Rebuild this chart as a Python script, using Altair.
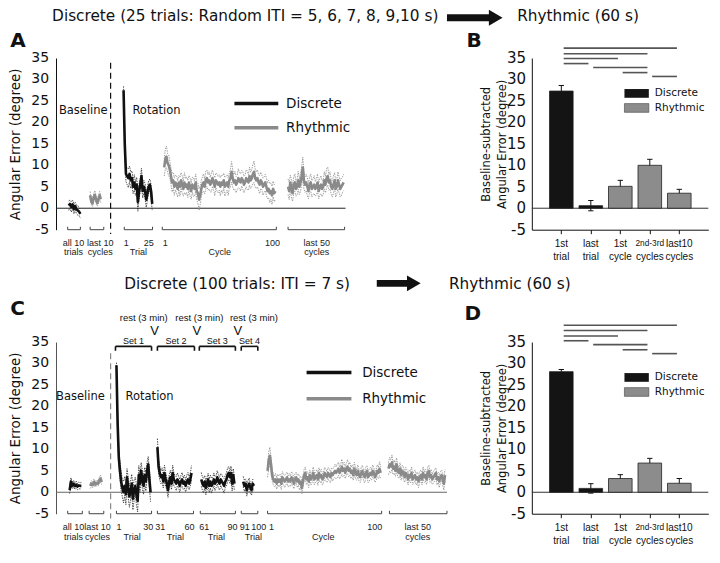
import altair as alt
import pandas as pd

# ------------------------------------------------------------------ data
SERIES = ["Discrete", "Rhythmic"]
Y_TICKS = [-5, 0, 5, 10, 15, 20, 25, 30, 35]

# Panel A (25 random-ITI trials)
A_DISC_BASE = [0.6, 1.0, 0.3, 0.9, -0.2, 0.5, -0.3, -0.5, -0.8, -1.3]
A_DISC_BASE_SE = [1.1, 0.9, 1.2, 1.0, 1.1, 0.9, 1.0, 1.1, 0.9, 1.0]
A_RHY_BASE = [3.0, 1.6, 1.1, 2.6, 3.1, 2.0, 1.2, 2.1, 3.0, 2.1]
A_RHY_BASE_SE = [0.9, 0.8, 0.7, 0.9, 1.0, 0.8, 0.7, 0.9, 0.9, 0.8]
A_DISC_ROT = [27.5, 15.0, 8.0, 7.5, 7.0, 8.0, 6.5, 7.0, 5.0, 6.0, 4.5, 5.5, 1.5,
              4.0, 5.5, 7.5, 4.0, 5.0, 4.0, 2.0, 3.5, 5.0, 5.5, 4.0, 1.0]
A_DISC_ROT_SE = [0.9, 1.5, 1.8, 2.0, 2.2, 1.8, 1.9, 1.7, 1.6, 1.8, 1.5, 1.7, 2.2,
                 1.6, 1.5, 1.8, 1.6, 1.5, 1.7, 1.8, 1.5, 1.4, 1.3, 1.5, 1.6]
A_RHY_CYC = [9.5, 11.5, 12.0, 10.5, 10.0, 9.0, 7.5, 6.0, 6.5, 5.0,
             6.0, 5.5, 4.5, 6.0, 5.0, 6.5, 5.5, 4.5, 6.0, 5.0,
             5.5, 4.5, 6.0, 5.0, 4.0, 5.5, 5.0, 4.5, 6.0, 4.0,
             3.5, 2.0, 3.0, 4.5, 5.5, 6.0, 5.0, 6.5, 7.0, 6.0,
             6.5, 5.5, 6.0, 7.0, 6.0, 5.0, 6.5, 6.0, 5.5, 6.0,
             5.0, 6.0, 5.5, 6.5, 5.0, 5.5, 6.0, 5.0, 6.5, 7.0,
             8.5, 7.0, 6.0, 6.5, 5.5, 6.0, 7.0, 6.5, 6.0, 7.0,
             6.5, 5.5, 6.0, 7.0, 6.5, 6.0, 7.5, 6.5, 7.0, 8.0,
             8.5, 7.0, 6.5, 7.0, 6.0, 5.5, 6.5, 6.0, 5.0, 5.5,
             6.0, 5.0, 4.0, 4.5, 3.5, 4.0, 3.0, 4.5, 3.5, 4.0]
A_RHY_CYC_SE = [2.0, 2.3, 2.5, 2.2, 2.4, 2.0, 1.9, 2.2, 1.8, 2.0,
                1.7, 2.1, 1.9, 1.6, 2.2, 1.8, 2.0, 1.7, 2.3, 1.9,
                1.8, 2.0, 1.6, 2.1, 1.9, 1.7, 2.2, 1.8, 2.0, 2.1,
                2.3, 2.5, 2.2, 1.9, 1.8, 2.0, 1.7, 2.1, 1.9, 1.8,
                2.0, 1.7, 2.2, 1.9, 1.8, 2.1, 1.7, 2.0, 1.9, 1.8,
                2.1, 1.8, 2.0, 1.7, 2.2, 1.9, 1.8, 2.0, 1.7, 2.1,
                2.4, 2.0, 1.8, 2.1, 1.9, 1.7, 2.2, 1.9, 2.0, 1.8,
                2.1, 1.9, 1.7, 2.0, 2.2, 1.8, 2.1, 1.9, 2.0, 2.2,
                2.5, 2.1, 1.9, 2.0, 1.8, 2.1, 1.9, 1.7, 2.0, 1.8,
                1.9, 2.1, 1.8, 2.0, 2.2, 1.9, 2.1, 1.8, 2.0, 1.9]
A_RHY_LAST = [5.0, 4.0, 6.0, 4.5, 3.5, 5.5, 6.0, 4.5, 5.0, 6.5,
              5.0, 6.0, 7.5, 9.5, 6.5, 5.5, 6.0, 5.0, 4.0, 5.5,
              6.0, 4.5, 5.0, 5.5, 4.5, 5.0, 6.0, 4.0, 5.0, 5.5,
              4.5, 5.0, 6.5, 5.5, 7.0, 7.5, 6.0, 6.5, 5.0, 4.5,
              5.5, 6.5, 4.5, 5.0, 6.5, 5.5, 4.5, 5.0, 5.5, 6.0]
A_RHY_LAST_SE = [1.8, 2.0, 1.7, 2.1, 1.9, 1.8, 2.0, 1.7, 1.9, 2.1,
                 1.8, 2.0, 2.2, 2.4, 2.0, 1.8, 1.9, 2.1, 1.8, 1.7,
                 2.0, 1.9, 1.8, 2.1, 1.7, 1.9, 2.0, 1.8, 1.9, 2.1,
                 1.8, 1.7, 2.0, 1.9, 2.2, 2.1, 1.8, 2.0, 1.7, 1.9,
                 2.0, 1.8, 1.9, 1.7, 2.0, 1.8, 1.9, 2.1, 1.8, 1.9]

# Panel C (100 trials, ITI = 7 s, four sets)
C_DISC_BASE = [0.5, 2.5, 1.5, 2.0, 1.4, 1.8, 1.3, 1.6, 1.5, 1.5]
C_DISC_BASE_SE = [0.8, 0.9, 0.7, 0.8, 0.7, 0.8, 0.7, 0.8, 0.7, 0.8]
C_RHY_BASE = [1.5, 2.0, 1.7, 2.4, 1.8, 2.2, 2.0, 2.7, 3.2, 2.4]
C_RHY_BASE_SE = [0.6, 0.7, 0.6, 0.7, 0.6, 0.7, 0.6, 0.7, 0.8, 0.7]
C_SET1 = [29.6, 16.0, 8.0, 5.0, 2.5, 1.0, 0.0, 1.5, -0.5, 3.5,
          1.0, -1.0, 0.5, 2.0, -1.5, 0.5, 1.5, -0.5, -2.0, 4.0,
          2.0, 5.0, 3.0, 1.5, 4.0, 2.5, 5.0, 6.5, 3.0, 0.0]
C_SET1_SE = [0.6, 1.5, 1.8, 2.0, 2.2, 2.0, 2.5, 2.2, 2.4, 2.0,
             2.3, 2.5, 2.1, 2.2, 2.6, 2.3, 2.0, 2.4, 2.6, 2.2,
             2.0, 1.9, 2.1, 2.0, 1.8, 2.2, 1.9, 1.8, 2.0, 2.2]
C_SET2 = [10.5, 6.0, 4.5, 3.5, 4.0, 2.5, 4.5, 3.0, 2.0, 0.5,
          2.5, 3.5, 2.0, 4.5, 3.0, 2.5, 2.0, 3.0, 2.5, 1.5,
          2.5, 3.0, 2.0, 2.5, 1.5, 2.5, 3.0, 2.0, 3.0, 4.5]
C_SET2_SE = [2.0, 1.8, 1.6, 1.5, 1.7, 1.5, 1.8, 1.6, 1.4, 1.7,
             1.5, 1.6, 1.4, 1.8, 1.5, 1.4, 1.6, 1.5, 1.3, 1.5,
             1.4, 1.6, 1.3, 1.5, 1.4, 1.5, 1.6, 1.4, 1.5, 1.7]
C_SET3 = [3.0, 2.0, 1.5, 2.5, 1.0, 2.0, 3.0, 1.5, 2.5, 1.5,
          2.0, 3.0, 2.0, 2.5, 3.5, 2.5, 2.0, 3.0, 2.5, 2.0,
          1.5, 2.5, 3.0, 4.0, 4.5, 3.5, 4.5, 2.0, 4.0, 2.0]
C_SET3_SE = [1.6, 1.5, 1.7, 1.4, 1.6, 1.5, 1.4, 1.6, 1.5, 1.7,
             1.4, 1.5, 1.6, 1.4, 1.5, 1.6, 1.5, 1.4, 1.6, 1.5,
             1.7, 1.4, 1.5, 1.6, 1.5, 1.4, 1.6, 1.7, 1.5, 1.6]
C_SET4 = [2.5, 1.5, 2.0, 0.5, 1.5, 2.0, 1.0, 0.5, 2.0, 1.5]
C_SET4_SE = [1.2, 1.3, 1.1, 1.4, 1.2, 1.3, 1.1, 1.2, 1.0, 1.2]
C_RHY_CYC = [5.0, 7.5, 8.5, 6.5, 4.0, 3.0, 2.5, 3.0, 2.0, 3.0,
             2.5, 3.0, 2.0, 3.5, 3.0, 2.5, 3.0, 3.5, 2.5, 3.0,
             2.5, 3.5, 3.0, 2.0, 3.0, 3.5, 2.5, 3.0, 2.0, 2.5,
             1.0, 2.5, 4.0, 4.5, 3.0, 3.5, 2.5, 4.0, 3.0, 3.5,
             4.5, 3.0, 3.5, 4.0, 3.0, 4.5, 3.5, 4.0, 3.0, 3.5,
             4.5, 4.0, 3.5, 4.5, 4.0, 3.5, 4.5, 4.0, 4.5, 5.0,
             4.5, 5.0, 5.5, 4.5, 5.0, 6.0, 5.0, 5.5, 4.5, 5.5,
             6.0, 5.0, 5.5, 4.5, 5.0, 4.0, 5.5, 4.5, 4.0, 5.0,
             4.0, 3.5, 4.5, 5.0, 4.0, 3.5, 4.5, 5.0, 3.5, 4.0,
             4.5, 4.0, 5.0, 4.5, 3.5, 4.0, 5.0, 4.5, 5.5, 4.5]
C_RHY_CYC_SE = [1.5, 1.8, 2.0, 1.7, 1.4, 1.3, 1.2, 1.4, 1.3, 1.2,
                1.3, 1.2, 1.4, 1.3, 1.2, 1.4, 1.3, 1.2, 1.3, 1.4,
                1.2, 1.3, 1.4, 1.2, 1.3, 1.2, 1.4, 1.3, 1.5, 1.3,
                1.4, 1.2, 1.3, 1.4, 1.2, 1.3, 1.4, 1.2, 1.3, 1.2,
                1.4, 1.3, 1.2, 1.3, 1.4, 1.2, 1.3, 1.4, 1.3, 1.2,
                1.3, 1.4, 1.2, 1.3, 1.4, 1.3, 1.2, 1.4, 1.3, 1.5,
                1.4, 1.6, 1.5, 1.4, 1.5, 1.7, 1.4, 1.5, 1.3, 1.4,
                1.6, 1.4, 1.5, 1.3, 1.4, 1.2, 1.5, 1.3, 1.2, 1.4,
                1.3, 1.2, 1.4, 1.3, 1.2, 1.3, 1.4, 1.2, 1.3, 1.4,
                1.3, 1.2, 1.4, 1.3, 1.2, 1.3, 1.4, 1.3, 1.6, 1.4]
C_RHY_LAST = [5.5, 6.5, 6.0, 7.0, 5.5, 6.0, 5.0, 6.5, 5.0, 4.5,
              5.5, 4.0, 5.0, 4.5, 3.5, 4.5, 4.0, 3.0, 4.0, 3.5,
              4.5, 3.0, 3.5, 4.0, 3.0, 3.5, 2.5, 3.5, 4.0, 3.0,
              4.5, 3.5, 4.0, 3.0, 4.5, 5.0, 3.5, 4.0, 3.0, 3.5,
              4.0, 4.5, 3.0, 3.5, 2.5, 3.5, 4.0, 3.0, 2.0, 4.0]
C_RHY_LAST_SE = [1.4, 1.6, 1.5, 1.7, 1.4, 1.5, 1.3, 1.5, 1.4, 1.3,
                 1.4, 1.2, 1.3, 1.4, 1.2, 1.3, 1.2, 1.3, 1.2, 1.3,
                 1.4, 1.2, 1.3, 1.2, 1.3, 1.2, 1.4, 1.3, 1.2, 1.3,
                 1.4, 1.2, 1.3, 1.2, 1.4, 1.3, 1.2, 1.3, 1.2, 1.4,
                 1.3, 1.2, 1.3, 1.2, 1.4, 1.3, 1.2, 1.3, 1.5, 1.3]

# Bar panels B and D
BAR_TOP = ["1st", "last", "1st", "2nd-3rd", "last10"]
BAR_BOTTOM = ["trial", "trial", "cycle", "cycles", "cycles"]
BAR_GROUP = ["Discrete", "Discrete", "Rhythmic", "Rhythmic", "Rhythmic"]
B_MEAN = [27.3, 0.6, 5.1, 10.0, 3.5]
B_SE = [1.3, 1.2, 1.4, 1.4, 0.9]
D_MEAN = [28.1, 0.9, 3.2, 6.8, 2.1]
D_SE = [0.5, 1.1, 0.9, 1.1, 1.1]
SIG_PAIRS = [(1, 5), (1, 4), (1, 3), (1, 2), (2, 4), (3, 4), (4, 5)]
B_SIG_Y = [37.3, 36.0, 34.9, 33.7, 32.8, 31.6, 30.7]
D_SIG_Y = [38.9, 37.7, 36.4, 35.3, 34.4, 33.2, 32.3]

HEADER_1 = "Discrete (25 trials: Random ITI = 5, 6, 7, 8, 9,10 s)"
HEADER_2 = "Discrete (100 trials:  ITI = 7 s)"
HEADER_R = "Rhythmic (60 s)"
REST = "rest (3 min)"

# ------------------------------------------------------------------ layout
SX, SY = 0.975, 0.97
FONT = "DejaVu Sans"
SMALL = "Liberation Sans"
INK = "#111111"
GREY = "#8a8a8a"
H_REF = 177
A_W_REF, C_W_REF, BAR_W_REF, BAR_STEP_REF = 297, 401, 181, 30.25
H = H_REF * SY
ONE = pd.DataFrame({"k": [0]})
TICKS_DF = pd.DataFrame({"v": Y_TICKS, "lab": [str(v) for v in Y_TICKS]})
YS = alt.Scale(domain=[-5, 35], nice=False, zero=False)
IS_DISC = "datum.series == 'Discrete'"


def px(v):
    return v * SX


def py(v):
    return v * SY


def text_at(s, x, y, size, align="left", weight="normal", color=INK, baseline="middle",
            font=FONT):
    return alt.Chart(ONE).mark_text(
        text=s, align=align, baseline=baseline, fontSize=size, fontWeight=weight,
        color=color, font=font).encode(x=alt.value(px(x)), y=alt.value(py(y)))


def hline(x0, x1, y, color, width):
    return alt.Chart(ONE).mark_rule(color=color, strokeWidth=width).encode(
        x=alt.value(px(x0)), x2=alt.value(px(x1)), y=alt.value(py(y)))


def arrow(x0, x1, y):
    shaft = hline(x0, x1 - 12, y, INK, 7 * SY)
    head = alt.Chart(ONE).mark_point(shape="triangle-right", filled=True, size=250,
                                     color=INK, opacity=1, strokeWidth=0).encode(
        x=alt.value(px(x1 - 7)), y=alt.value(py(y)))
    return [shaft, head]


def y_axis(title, title_x, title_size, line_height=None, domain_color=INK):
    kw = dict(values=Y_TICKS, labels=False, ticks=False, grid=False,
              domainColor=domain_color, title=title, titleFontSize=title_size,
              titleFontWeight="normal", titleColor=INK, titleAngle=270,
              titleX=px(title_x), titleY=H / 2, titleAlign="center",
              titleBaseline="middle")
    if line_height is not None:
        kw["titleLineHeight"] = line_height
    return alt.Axis(**kw)


def tick_labels(size, pad):
    return alt.Chart(TICKS_DF).mark_text(align="right", baseline="middle", fontSize=size,
                                         font=FONT, color=INK).encode(
        x=alt.value(-pad), y=alt.Y("v:Q", scale=YS), text="lab:N")


def ts_df(segments):
    rows = []
    for seg, series, vals, ses, x0, x1 in segments:
        n = len(vals)
        for i in range(n):
            rows.append(dict(seg=seg, series=series, x=x0 + (x1 - x0) * i / (n - 1),
                             mean=vals[i], upper=vals[i] + ses[i], lower=vals[i] - ses[i]))
    return pd.DataFrame(rows)


def ts_panel(segments, w_ref, brackets, labels, nums, axis_color, zero_color, dash_x,
             dash_y, dash_color, base_xy, rot_x, legend, decor, top_sets=None):
    xs = alt.Scale(domain=[0, w_ref], nice=False, zero=False)
    W = px(w_ref)
    df = ts_df(segments)
    X = lambda f: alt.X(f, scale=xs, axis=None)
    Y = lambda f: alt.Y(f, scale=YS)
    yaxis = y_axis("Angular Error (degree)", -41.5, 13.5, domain_color=axis_color)
    layers = []
    layers.append(alt.Chart(ONE).mark_rule(color=zero_color, strokeWidth=1).encode(
        x=alt.value(0), x2=alt.value(W), y=alt.YDatum(0, scale=YS, axis=yaxis)))
    layers.append(tick_labels(14, px(7)))
    layers.append(alt.Chart(df).transform_fold(["upper", "lower"], as_=["bound", "val"])
                  .mark_line(strokeWidth=0.9, strokeDash=[1.4, 1.1]).encode(
        x=X("x:Q"), y=Y("val:Q"), detail=["seg:N", "bound:N"],
        color=alt.condition(IS_DISC, alt.value("#333333"), alt.value("#939393"))))
    layers.append(alt.Chart(df).mark_line(strokeWidth=2.6, strokeJoin="round").encode(
        x=X("x:Q"), y=Y("mean:Q"), detail="seg:N",
        color=alt.condition(IS_DISC, alt.value(INK), alt.value(GREY))))
    layers.append(alt.Chart(ONE).mark_rule(color=dash_color, strokeDash=[6, 4],
                                           strokeWidth=1.2).encode(
        x=alt.XDatum(dash_x, scale=xs, axis=None),
        y=alt.YDatum(dash_y[0], scale=YS), y2=alt.Y2Datum(dash_y[1])))

    # bottom brackets and their labels
    bdf = pd.DataFrame(brackets, columns=["x0", "x1"])
    bc = "#444444"
    layers.append(alt.Chart(bdf).mark_rule(color=bc, strokeWidth=1).encode(
        x=X("x0:Q"), x2="x1:Q", y=alt.value(H)))
    layers.append(alt.Chart(bdf).transform_fold(["x0", "x1"], as_=["end", "xe"])
                  .mark_rule(color=bc, strokeWidth=1).encode(
        x=X("xe:Q"), y=alt.value(H - py(3)), y2=alt.value(H)))
    ldf = pd.DataFrame(labels, columns=["x", "t1", "t2"])
    ndf = pd.DataFrame(nums, columns=["x", "t"])
    small = dict(fontSize=9, font=SMALL, color="#222222", baseline="middle", align="center")
    layers.append(alt.Chart(ldf).mark_text(**small).encode(
        x=X("x:Q"), y=alt.value(H + py(13.5)), text="t1:N"))
    layers.append(alt.Chart(ldf).mark_text(**small).encode(
        x=X("x:Q"), y=alt.value(H + py(23.5)), text="t2:N"))
    layers.append(alt.Chart(ndf).mark_text(**small).encode(
        x=X("x:Q"), y=alt.value(H + py(13.5)), text="t:N"))

    # Baseline / Rotation labels
    for s, xv in (("Baseline", base_xy[0]), ("Rotation", rot_x)):
        layers.append(alt.Chart(ONE).mark_text(text=s, fontSize=11.5, font=FONT,
                                               color=INK, align="center").encode(
            x=alt.XDatum(xv, scale=xs, axis=None), y=alt.YDatum(base_xy[1], scale=YS)))

    # legend of line series
    lx0, lx1, ly0, ly1, ltx, lfs = legend
    layers.append(hline(lx0, lx1, ly0, INK, 3.5))
    layers.append(hline(lx0, lx1, ly1, GREY, 3.5))
    layers.append(text_at(SERIES[0], ltx, ly0, lfs))
    layers.append(text_at(SERIES[1], ltx, ly1, lfs))

    # set brackets above panel C
    if top_sets is not None:
        sets, v_x, rest_x = top_sets
        sdf = pd.DataFrame(sets, columns=["x0", "x1", "lab"])
        sdf["xc"] = (sdf["x0"] + sdf["x1"]) / 2
        layers.append(alt.Chart(sdf).mark_rule(color=INK, strokeWidth=1.6).encode(
            x=X("x0:Q"), x2="x1:Q", y=alt.value(py(4.5))))
        layers.append(alt.Chart(sdf).transform_fold(["x0", "x1"], as_=["end", "xe"])
                      .mark_rule(color=INK, strokeWidth=1.6).encode(
            x=X("xe:Q"), y=alt.value(py(4.5)), y2=alt.value(py(9))))
        layers.append(alt.Chart(sdf).mark_text(fontSize=9, font=SMALL, color=INK).encode(
            x=X("xc:Q"), y=alt.value(py(-1.5)), text="lab:N"))
        vdf = pd.DataFrame({"x": v_x, "rx": rest_x})
        layers.append(alt.Chart(vdf).mark_text(text="V", fontSize=13, font=SMALL,
                                               color=INK).encode(
            x=X("x:Q"), y=alt.value(py(-11))))
        layers.append(alt.Chart(vdf).mark_text(text=REST, fontSize=9.5, font=SMALL,
                                               color=INK).encode(
            x=X("rx:Q"), y=alt.value(py(-25))))

    layers.extend(decor)
    return alt.layer(*layers).properties(width=W, height=H)


def bar_panel(means, ses, sig_y, letter, letter_xy):
    xs = alt.Scale(domain=[0, BAR_W_REF / BAR_STEP_REF], nice=False, zero=False)
    W = px(BAR_W_REF)
    df = pd.DataFrame({"pos": [1, 2, 3, 4, 5], "mean": means, "se": ses,
                       "series": BAR_GROUP, "l1": BAR_TOP, "l2": BAR_BOTTOM})
    df["x0"] = df["pos"] - 0.4
    df["x1"] = df["pos"] + 0.4
    df["c0"] = df["pos"] - 0.09
    df["c1"] = df["pos"] + 0.09
    df["lo"] = df["mean"] - df["se"]
    df["hi"] = df["mean"] + df["se"]
    X = lambda f: alt.X(f, scale=xs)
    Y = lambda f: alt.Y(f, scale=YS)
    xaxis = alt.Axis(values=[1, 2, 3, 4, 5], labels=False, ticks=True, tickSize=4,
                     tickColor=INK, domainColor=INK, grid=False, title="")
    yaxis = y_axis(["Baseline-subtracted", "Angular Error (degree)"], -46, 11.5,
                   line_height=py(16.5))
    layers = []
    layers.append(alt.Chart(ONE).mark_rule(color="#333333", strokeWidth=1).encode(
        x=alt.XDatum(0, scale=xs, axis=xaxis),
        x2=alt.X2Datum(BAR_W_REF / BAR_STEP_REF),
        y=alt.YDatum(0, scale=YS, axis=yaxis)))
    layers.append(tick_labels(15, px(6)))
    layers.append(alt.Chart(df).mark_rule(color=INK, strokeWidth=1).encode(
        x=X("pos:Q"), y=Y("lo:Q"), y2="hi:Q"))
    for f in ("lo", "hi"):
        layers.append(alt.Chart(df).mark_rule(color=INK, strokeWidth=1).encode(
            x=X("c0:Q"), x2="c1:Q", y=Y(f + ":Q")))
    layers.append(alt.Chart(df).mark_rect(stroke="#222222", strokeWidth=0.8).encode(
        x=X("x0:Q"), x2="x1:Q", y=Y("mean:Q"), y2=alt.Y2Datum(0),
        color=alt.condition(IS_DISC, alt.value("#141414"), alt.value("#8c8c8c"))))
    sdf = pd.DataFrame(SIG_PAIRS, columns=["a", "b"])
    sdf["x0"] = sdf["a"] + 0.08
    sdf["x1"] = sdf["b"] - 0.08
    sdf["y"] = sig_y
    layers.append(alt.Chart(sdf).mark_rule(color="#555555", strokeWidth=1.6).encode(
        x=X("x0:Q"), x2="x1:Q", y=Y("y:Q")))
    layers.append(alt.Chart(df).mark_text(font=SMALL, color=INK, baseline="middle").encode(
        x=X("pos:Q"), y=alt.value(H + py(15)), text="l1:N",
        size=alt.condition("datum.l1 == '2nd-3rd'", alt.value(8.3), alt.value(10))))
    layers.append(alt.Chart(df).mark_text(font=SMALL, color=INK, fontSize=10,
                                          baseline="middle").encode(
        x=X("pos:Q"), y=alt.value(H + py(28.5)), text="l2:N"))
    # legend boxes
    layers.append(alt.Chart(ONE).mark_rect(color="#141414").encode(
        x=alt.value(px(95)), x2=alt.value(px(120)), y=alt.value(py(32)), y2=alt.value(py(41))))
    layers.append(alt.Chart(ONE).mark_rect(color="#8c8c8c", stroke="#444444",
                                           strokeWidth=0.6).encode(
        x=alt.value(px(95)), x2=alt.value(px(120)), y=alt.value(py(47)), y2=alt.value(py(56))))
    layers.append(text_at(SERIES[0], 126, 36.5, 10.5))
    layers.append(text_at(SERIES[1], 126, 51.5, 10.5))
    layers.append(text_at(letter, letter_xy[0], letter_xy[1], 20, weight="bold",
                          baseline="alphabetic"))
    return alt.layer(*layers).properties(width=W, height=H)


# ------------------------------------------------------------------ panels
A_SEGMENTS = [
    ("base_d", "Discrete", A_DISC_BASE, A_DISC_BASE_SE, 13, 25),
    ("base_r", "Rhythmic", A_RHY_BASE, A_RHY_BASE_SE, 35, 46),
    ("rot_d", "Discrete", A_DISC_ROT, A_DISC_ROT_SE, 69.3, 98.7),
    ("cyc_r", "Rhythmic", A_RHY_CYC, A_RHY_CYC_SE, 111, 225),
    ("last_r", "Rhythmic", A_RHY_LAST, A_RHY_LAST_SE, 238, 295),
]
A_BRACKETS = [(12, 25), (35, 49), (70, 99), (109, 226), (238, 296)]
A_LABELS = [(18, "all 10", "trials"), (45.5, "last 10", "cycles"), (84.5, "", "Trial"),
            (168, "", "Cycle"), (267.5, "last 50", "cycles")]
A_NUMS = [(72, "1"), (95, "25"), (112, "1"), (222, "100")]
A_DECOR = [
    text_at("A", -47, -11, 20, weight="bold", baseline="alphabetic"),
    text_at(HEADER_1, -4, -43.5, 15.3),
    *arrow(401, 458, -41.5),
    text_at(HEADER_R, 473, -43.5, 15.3),
]
panel_a = ts_panel(A_SEGMENTS, A_W_REF, A_BRACKETS, A_LABELS, A_NUMS, INK, "#222222", 56,
                   (33.9, -6.0), INK, (28, 22.7), 103, (183, 228, 47, 72, 236, 13.5), A_DECOR)

C_SEGMENTS = [
    ("base_d", "Discrete", C_DISC_BASE, C_DISC_BASE_SE, 14, 26),
    ("base_r", "Rhythmic", C_RHY_BASE, C_RHY_BASE_SE, 35, 47),
    ("set1", "Discrete", C_SET1, C_SET1_SE, 62, 97),
    ("set2", "Discrete", C_SET2, C_SET2_SE, 104, 139),
    ("set3", "Discrete", C_SET3, C_SET3_SE, 149, 183),
    ("set4", "Discrete", C_SET4, C_SET4_SE, 192, 203),
    ("cyc_r", "Rhythmic", C_RHY_CYC, C_RHY_CYC_SE, 217, 333),
    ("last_r", "Rhythmic", C_RHY_LAST, C_RHY_LAST_SE, 341, 399),
]
C_BRACKETS = [(12, 27), (34, 49), (62, 98), (104, 141), (148, 184), (190, 207),
              (217, 334), (342, 401)]
C_LABELS = [(18, "all 10", "trials"), (42.5, "last 10", "cycles"), (78, "", "Trial"),
            (122.5, "", "Trial"), (164.5, "", "Trial"), (202.5, "", "Trial"),
            (274, "", "Cycle"), (371, "last 50", "cycles")]
C_NUMS = [(64.5, "1"), (94.5, "30"), (107, "31"), (137, "60"), (152, "61"), (181, "90"),
          (193.5, "91"), (208, "100"), (221, "1"), (327, "100")]
C_SETS = [(61, 98, "Set 1"), (104, 142, "Set 2"), (147, 184, "Set 3"), (190, 207, "Set 4")]
C_V_X = [101, 144.5, 186.5]
C_REST_X = [90, 147, 203]
C_DECOR = [
    text_at("C", -47, -27.5, 20, weight="bold", baseline="alphabetic"),
    text_at(HEADER_2, 70, -60, 15.3),
    *arrow(329, 374, -60.5),
    text_at(HEADER_R, 403, -60, 15.3),
]
panel_c = ts_panel(C_SEGMENTS, C_W_REF, C_BRACKETS, C_LABELS, C_NUMS, "#555555", "#666666",
                   56, (32.4, -6.1), "#888888", (25, 22.3), 96,
                   (257, 303, 31.5, 58.5, 314, 13.5), C_DECOR,
                   top_sets=(C_SETS, C_V_X, C_REST_X))

panel_b = bar_panel(B_MEAN, B_SE, B_SIG_Y, "B", (-67, -11))
panel_d = bar_panel(D_MEAN, D_SE, D_SIG_Y, "D", (-69, -22.5))

chart = alt.concat(
    panel_a, panel_b, panel_c, panel_d, columns=2,
    spacing={"row": py(115.5), "column": px(87)},
    bounds="flush", align="each", padding=0,
).configure(font=FONT).configure_view(stroke=None)

chart.save("out.html", embed_options={"renderer": "svg", "actions": False})
